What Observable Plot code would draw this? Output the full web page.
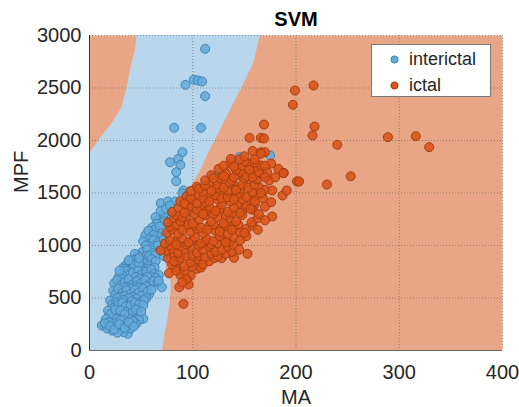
<!DOCTYPE html>
<html>
<head>
<meta charset="utf-8">
<script src="https://cdn.jsdelivr.net/npm/d3@7"></script>
<script src="https://cdn.jsdelivr.net/npm/@observablehq/plot@0.6"></script>
<style>
  html, body { margin: 0; padding: 0; background: #fff; }
  #wrap { position: relative; width: 519px; height: 407px; font-family: "Liberation Sans", Arial, Helvetica, sans-serif; }
  #legend { position: absolute; left: 371px; top: 44px; width: 120px; height: 53px; background: #fff; border: 1px solid #7a7a7a; box-sizing: border-box; }
  .item { position: absolute; left: 0; height: 20px; display: flex; align-items: center; font-size: 18px; color: #262626; }
  .item svg { margin-left: 18px; margin-right: 10px; }
</style>
</head>
<body>
<div id="wrap"></div>
<script>
// Tick values
const xTicks = [0, 100, 200, 300, 400];
const yTicks = [0, 500, 1000, 1500, 2000, 2500, 3000];

// Series names
const seriesNames = ["interictal", "ictal"];

// Decision boundary of the blue (interictal) region: [MPF, left MA, right MA]
const boundaryMPF   = [0, 150, 300, 480, 650, 800, 1000, 1200, 1429, 1524, 1619, 1700, 1778, 1873, 1952, 2000, 2063, 2159, 2317, 2508, 2730, 2857, 3000];
const boundaryLeft  = [0, 0, 0, 0, 0, 0, 0, 0, 0, 0, 0, 0, 0, 0, 5.8, 9, 13.8, 22, 31.6, 36.5, 41, 44.5, 46];
const boundaryRight = [71, 73, 76, 78.5, 79, 74, 72, 80, 88, 96, 102, 107, 111, 115, 119, 122, 125, 130, 138, 148, 159, 162, 165.5];

// interictal points [MA, MPF]
const interictal = [
  [112,2873],[93,2530],[101,2578],[105,2571],[109,2562],[112,2422],[82,2121],[108,2121],
  [90,1889],[78,1793],[86,1825],[88,1768],[84,1698],[84,1612],[91,1524],
  [145,1841],[175,1857],[124,1660],
  [69,1403],[76,1419],[83,1419],[90,1495],
  [75,1286],[70,1270],[72,1300],[66,1240],[73,1230],[64,1270],[69,1330],[74,1350],[78,1380],
  [65,1206],[61,1174],[59,1111],[54,1095],[63,1150],[68,1180],[57,1140],[70,1120],[66,1090],[62,1100],[58,1060],
  [57,1016],[62,1050],[52,1040],[67,1030],[72,1060],[60,985],[66,1000],[55,1000],
  [51,936],[56,960],[47,905],[62,930],[68,950],[55,900],[44,920],[72,900],[58,900],[64,910],
  [46,873],[38,841],[33,794],[42,860],[50,850],[55,830],[60,870],[36,820],[45,800],[52,790],[58,810],[64,850],[40,775],
  [34,780],[43,820],[48,830],[52,760],[57,780],[63,790],[38,860],[48,880],
  [28,698],[31,740],[35,760],[38,720],[42,740],[47,760],[50,720],[55,750],[60,770],[63,730],[32,710],[45,700],[53,690],[59,705],[67,720],[29,760],
  [31,680],[40,660],[48,680],[56,700],[64,690],
  [24,640],[27,670],[30,620],[34,650],[38,680],[42,630],[46,660],[50,640],[54,670],[58,630],[62,660],[66,650],[70,603],[67,667],[36,605],[45,610],
  [26,560],[34,600],[40,590],[48,600],[55,610],[58,540],
  [23,571],[25,530],[28,590],[32,550],[36,575],[40,540],[44,580],[48,555],[52,590],[56,560],[60,580],[30,510],[42,510],[50,520],
  [55,500],[27,500],[34,520],[38,500],[46,495],
  [20,476],[22,440],[26,460],[29,420],[33,480],[37,440],[41,470],[45,430],[49,460],[53,480],[24,410],[38,405],[47,410],
  [28,440],[32,455],[35,420],[40,430],[44,455],[48,440],[52,430],
  [19,349],[18,380],[23,320],[27,360],[31,330],[35,370],[39,340],[43,310],[47,350],[52,302],[21,300],[36,315],
  [21,350],[25,390],[30,380],[34,345],[42,365],[45,390],[50,370],[16,300],[26,300],[33,290],[40,300],[48,290],
  [14,238],[22,190],[28,222],[37,159],[45,254],[12,238],[17,210],[25,260],[31,200],[35,240],[40,210],[42,280],[19,270],[30,285],[33,175],[27,170],
  [15,260],[20,230],[24,200],[29,250],[34,215],[38,270],[43,230]
];

// ictal points [MA, MPF]
const ictal = [
  [91,444],
  [96,629],[87,603],[98,714],[88,721],[77,736],[104,778],[83,794],[94,680],[90,650],
  [84,760],[92,760],[100,800],[108,790],
  [80,820],[86,860],[92,800],[98,840],[105,870],[110,820],[116,850],[121,880],[140,883],[128,880],[76,880],[82,900],
  [82,850],[88,880],[94,900],[100,900],[106,900],[112,890],[118,920],[124,900],[132,920],[138,940],
  [74,950],[69,952],[80,970],[86,930],[92,960],[98,990],[104,930],[110,960],[116,990],[122,940],[128,959],[134,990],[139,1006],[153,921],[145,960],
  [78,1000],[83,1040],[88,990],[94,1010],[100,1050],[106,1000],[112,1040],[118,1010],[124,1020],[130,1060],[136,1040],
  [73,1020],[78,1050],[84,1010],[90,1070],[96,1030],[102,1080],[108,1020],[114,1060],[120,1040],[126,1090],[132,1030],[140,1079],[146,1050],[152,1090],
  [75,1120],[80,1150],[86,1110],[92,1180],[98,1130],[104,1160],[110,1120],[116,1190],[122,1140],[128,1170],[134,1110],[140,1180],[146,1130],[152,1160],[158,1190],[163,1150],
  [78,1180],[84,1200],[90,1150],[96,1200],[102,1190],[108,1170],[114,1150],[120,1200],[126,1130],[132,1190],[138,1150],[144,1200],[150,1120],
  [76,1220],[82,1260],[88,1230],[94,1280],[100,1210],[106,1250],[112,1290],[118,1230],[124,1270],[130,1210],[136,1260],[142,1230],[148,1290],[157,1222],[163,1260],[177,1276],[170,1240],
  [84,1290],[90,1270],[96,1330],[102,1300],[108,1350],[114,1330],[120,1300],[126,1350],[132,1290],[138,1310],[144,1390],[150,1350],[160,1390],
  [80,1320],[86,1360],[92,1310],[98,1380],[104,1340],[110,1300],[116,1370],[122,1330],[128,1390],[134,1320],[140,1360],[146,1310],[152,1380],[158,1340],[164,1300],[170,1370],[156,1349],
  [88,1420],[94,1470],[100,1430],[106,1480],[112,1410],[118,1460],[124,1440],[130,1490],[136,1420],[142,1470],[148,1440],[156,1429],[162,1480],[168,1450],[176,1413],[187,1476],
  [92,1400],[98,1450],[104,1400],[110,1450],[116,1420],[122,1480],[128,1450],[134,1460],[140,1440],[146,1490],[152,1460],[160,1420],
  [98,1520],[104,1560],[110,1510],[116,1580],[122,1540],[128,1590],[134,1520],[140,1570],[146,1540],[152,1590],[158,1510],[164,1560],[170,1530],[177,1524],[191,1524],
  [106,1540],[112,1570],[118,1520],[124,1580],[130,1550],[136,1600],[142,1530],[148,1580],[154,1550],[160,1580],[166,1500],
  [112,1620],[118,1670],[126,1640],[132,1690],[138,1620],[144,1670],[150,1640],[156,1690],[162,1630],[168,1670],[174,1620],[172,1698],[188,1692],[201,1610],[180,1650],
  [120,1640],[130,1660],[140,1650],[146,1700],[152,1660],[158,1650],[164,1700],[170,1650],
  [125,1730],[136,1780],[142,1720],[148,1760],[153,1784],[160,1740],[166,1762],[183,1730],[176,1780],[155,1720],
  [130,1760],[140,1750],[150,1800],[160,1790],[170,1760],[145,1820],
  [137,1825],[166,1889],[170,1889],[166,1873],[150,1850],[158,1900],[155,2025],[166,2025],[169,2019],[169,2152],[160,1820],
  [199,2476],[217,2524],[197,2340],[218,2133],[216,2048],[240,1959],[289,2032],[316,2041],[329,1937],[253,1660],[230,1581],[203,1610],[188,1689]
];

const colors = {
  bgOrange: "#e9a686", bgBlue: "#b9d7ec",
  blueFill: "#62abdc", blueStroke: "#4581b0",
  orangeFill: "#d95319", orangeStroke: "#a33d0e",
  text: "#262626"
};

const boundary = boundaryMPF.map((m, i) => ({mpf: m, left: boundaryLeft[i], right: boundaryRight[i]}));
const title = ["SVM"];

const chart = Plot.plot({
  width: 519, height: 407,
  marginLeft: 89, marginRight: 17, marginTop: 35, marginBottom: 57,
  style: {fontFamily: '"Liberation Sans", Arial, Helvetica, sans-serif', fontSize: "20px", color: colors.text, background: "#fff"},
  x: {domain: [0, 400]},
  y: {domain: [0, 3000]},
  marks: [
    Plot.frame({fill: colors.bgOrange, stroke: null}),
    Plot.areaX(boundary, {y: "mpf", x1: "left", x2: "right", fill: colors.bgBlue}),
    Plot.gridX(xTicks, {stroke: "#333", strokeOpacity: 0.45, strokeDasharray: "1,2"}),
    Plot.gridY(yTicks, {stroke: "#333", strokeOpacity: 0.45, strokeDasharray: "1,2"}),
    Plot.ruleX([0], {stroke: "#3a3a3a"}),
    Plot.ruleY([0], {stroke: "#6a6a6a"}),
    Plot.axisX({ticks: xTicks, tickSize: 0, tickPadding: 14, tickFormat: d => String(d), label: null, fontSize: 20}),
    Plot.axisY({ticks: yTicks, tickSize: 0, tickPadding: 8, tickFormat: d => String(d), label: null, fontSize: 20}),
    Plot.dot(interictal, {x: d => d[0], y: d => d[1], r: 4.5, fill: colors.blueFill, fillOpacity: 0.85, stroke: colors.blueStroke, strokeWidth: 1}),
    Plot.dot(ictal, {x: d => d[0], y: d => d[1], r: 4.5, fill: colors.orangeFill, fillOpacity: 0.88, stroke: colors.orangeStroke, strokeWidth: 1}),
    Plot.text(title, {frameAnchor: "top", lineAnchor: "middle", dy: -16, text: d => d, fontWeight: "bold", fontSize: 20, fill: "#000"}),
    Plot.text(["MA"], {frameAnchor: "bottom", lineAnchor: "middle", dy: 47, text: d => d, fontSize: 20, fill: colors.text}),
    Plot.text(["MPF"], {frameAnchor: "left", lineAnchor: "middle", dx: -68, rotate: -90, text: d => d, fontSize: 20, fill: colors.text})
  ]
});

const wrap = document.getElementById("wrap");
wrap.appendChild(chart);

const legend = document.createElement("div");
legend.id = "legend";
const legendColors = [[colors.blueFill, colors.blueStroke], [colors.orangeFill, colors.orangeStroke]];
seriesNames.forEach((name, i) => {
  const item = document.createElement("div");
  item.className = "item";
  item.style.top = (4 + i * 26) + "px";
  item.innerHTML = `<svg width="9" height="9"><circle cx="4.5" cy="4.5" r="3.6" fill="${legendColors[i][0]}" stroke="${legendColors[i][1]}" stroke-width="1"/></svg><span>${name}</span>`;
  legend.appendChild(item);
});
wrap.appendChild(legend);
</script>
</body>
</html>
